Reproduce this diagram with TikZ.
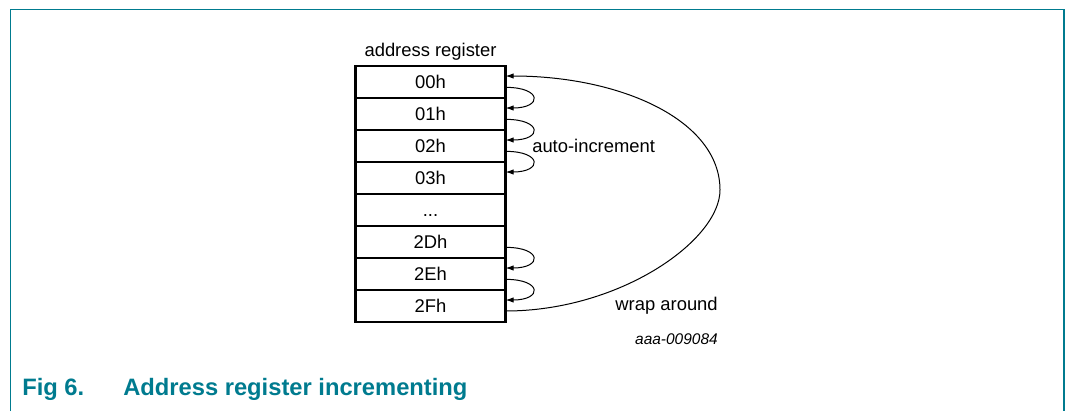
\documentclass[tikz,border=0pt]{standalone}
\usepackage{fontspec}
\setmainfont{Liberation Sans}
\usepackage{tikz}
\usetikzlibrary{arrows.meta,positioning}
\definecolor{figTeal}{HTML}{007B8F}

\begin{document}
\begin{tikzpicture}[
x=0.75pt, y=-0.75pt,
every node/.style={font=\fontsize{13.8}{16}\selectfont},
regrow/.style={draw, line width=1.8pt, outer sep=0pt, inner sep=0pt, minimum width=112.5pt, minimum height=24pt, text height=9.9pt, text depth=0pt},
note/.style={inner sep=0pt},
incarr/.style={-{Latex[length=6pt,width=4pt]}, line width=0.75pt},
frameline/.style={draw=figTeal, line width=1.2pt}
]
\useasboundingbox (0,0) rectangle (1066,411);

% frame round the figure
\draw[frameline] (10.5,411) -- (10.5,9.5) -- (1064,9.5) -- (1064,411);

% register rows
\node[regrow] (r0) at (430.5,82) {00h};
\node[regrow, below=0pt of r0] (r1) {01h};
\node[regrow, below=0pt of r1] (r2) {02h};
\node[regrow, below=0pt of r2] (r3) {03h};
\node[regrow, below=0pt of r3] (r4) {...};
\node[regrow, below=0pt of r4] (r5) {2Dh};
\node[regrow, below=0pt of r5] (r6) {2Eh};
\node[regrow, below=0pt of r6] (r7) {2Fh};
\node[note, above=4pt of r0] (title) {address register};

% auto-increment loops
\foreach \a/\b in {r0/r1, r1/r2, r2/r3, r5/r6, r6/r7}
  \draw[incarr] ([yshift=-4pt]\a.east) .. controls +(37,0) and +(37,0) .. ([yshift=4.5pt]\b.east);
\node[note, anchor=west] (inc) at (532,146) {auto-increment};

% wrap around
\coordinate (wrapturn) at (720,190);
\draw[incarr] ([yshift=-3.75pt]r7.east) .. controls +(115,0) and +(0,50) .. (wrapturn)
  .. controls +(0,-70) and +(115,0) .. ([yshift=4.5pt]r0.east);
\node[note, anchor=east] (wrap) at (718,306) {wrap around};
\node[note, anchor=east, font=\fontsize{11.6}{14}\selectfont\itshape] (code) at (718,339) {aaa-009084};

% caption
\node[note, anchor=west, text=figTeal, font=\fontsize{17.8}{20}\selectfont\bfseries] (fignum) at (22,389) {Fig 6.};
\node[note, anchor=west, text=figTeal, font=\fontsize{17.8}{20}\selectfont\bfseries] (figcap) at (123,389) {Address register incrementing};
\end{tikzpicture}
\end{document}
